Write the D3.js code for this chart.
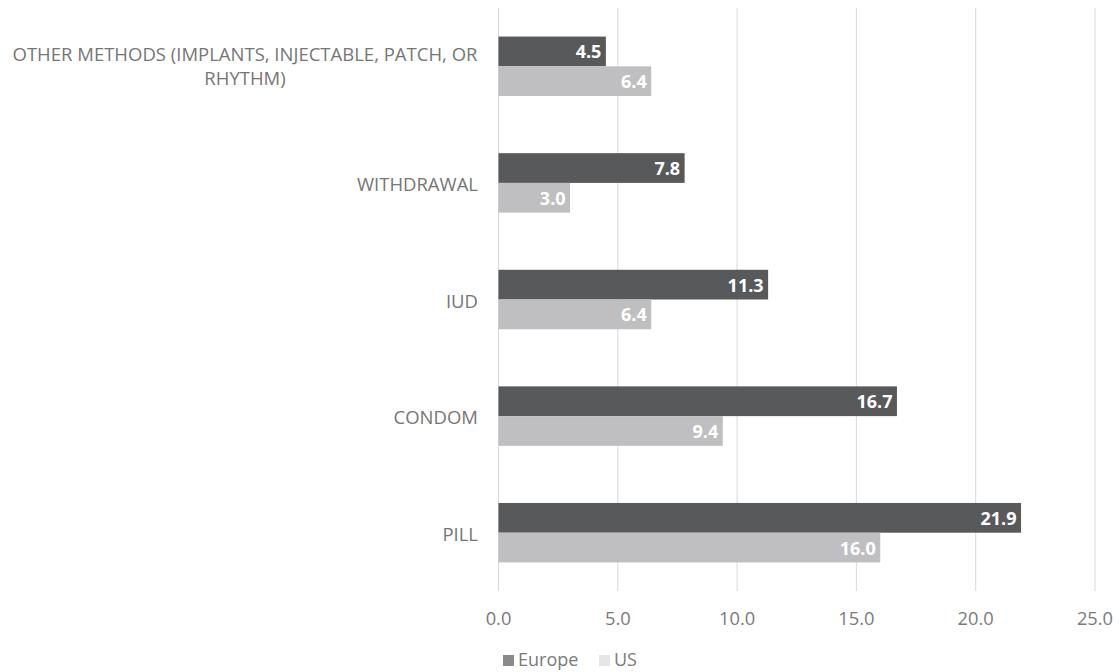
<!DOCTYPE html>
<html lang="en">
<head>
<meta charset="utf-8">
<title>Contraception methods</title>
<style>
body { margin: 0; background: #ffffff; }
svg text { font-family: "Open Sans", "DejaVu Sans", sans-serif; }
</style>
<script src="https://cdn.jsdelivr.net/npm/d3@7"></script>
</head>
<body>
<svg id="chart" width="1120" height="672"></svg>
<script>
// data
var categories = ["OTHER METHODS (IMPLANTS, INJECTABLE, PATCH, OR RHYTHM)", "WITHDRAWAL", "IUD", "CONDOM", "PILL"];
var categoryLines = [["OTHER METHODS (IMPLANTS, INJECTABLE, PATCH, OR", "RHYTHM)"], ["WITHDRAWAL"], ["IUD"], ["CONDOM"], ["PILL"]];
var europe = [4.5, 7.8, 11.3, 16.7, 21.9];
var us = [6.4, 3.0, 6.4, 9.4, 16.0];
var seriesNames = ["Europe", "US"];
var xTicks = [0, 5, 10, 15, 20, 25];

var barColors = {Europe: "#58595b", US: "#bfbfc1"};
var legendColors = {Europe: "#8a898c", US: "#e6e6e7"};

var svg = d3.select("#chart");
var plotL = 498.5, plotR = 1095, plotT = 8, plotB = 591;

var x = d3.scaleLinear().domain([0, 25]).range([plotL, plotR]);
var y = d3.scaleBand().domain(categories).range([plotT, plotB]).paddingInner(0.49).paddingOuter(0.245);
var ySub = d3.scaleBand().domain(seriesNames).range([0, y.bandwidth()]);

// gridlines
svg.append("g").selectAll("line").data(xTicks).enter()
  .append("line")
  .attr("x1", function(d){ return x(d); })
  .attr("x2", function(d){ return x(d); })
  .attr("y1", plotT).attr("y2", plotB)
  .attr("stroke", "#d9d9d9").attr("stroke-width", 1);

// tick labels
svg.append("g").selectAll("text").data(xTicks).enter()
  .append("text")
  .attr("x", function(d){ return x(d); })
  .attr("y", 625)
  .attr("text-anchor", "middle")
  .attr("font-size", 18.3)
  .attr("fill", "#7a7a7a")
  .text(function(d){ return d3.format(".1f")(d); });

// category labels
var catG = svg.append("g").selectAll("text").data(categories).enter()
  .append("text")
  .attr("text-anchor", "end")
  .attr("font-size", 18.5)
  .attr("fill", "#767676");
catG.each(function(d, i){
  var lines = categoryLines[i];
  var cy = y(d) + y.bandwidth() / 2;
  var lh = 24;
  var y0 = lines.length > 1 ? cy - 5 : cy + 8;
  var t = d3.select(this);
  lines.forEach(function(s, k){
    t.append("tspan").attr("x", 478).attr("y", y0 + k * lh).text(s);
  });
});
// second line of long label is centred under the first
catG.filter(function(d, i){ return categoryLines[i].length > 1; })
  .attr("text-anchor", "middle")
  .selectAll("tspan").attr("x", 245);

// bars
var rows = [];
categories.forEach(function(c, i){
  rows.push({cat: c, s: "Europe", v: europe[i]});
  rows.push({cat: c, s: "US", v: us[i]});
});

var barG = svg.append("g");
barG.selectAll("rect").data(rows).enter()
  .append("rect")
  .attr("x", x(0))
  .attr("y", function(d){ return y(d.cat) + ySub(d.s); })
  .attr("width", function(d){ return x(d.v) - x(0); })
  .attr("height", ySub.bandwidth())
  .attr("fill", function(d){ return barColors[d.s]; });

barG.selectAll("text").data(rows).enter()
  .append("text")
  .attr("x", function(d){ return x(d.v) - 4.5; })
  .attr("y", function(d){ return y(d.cat) + ySub(d.s) + ySub.bandwidth() / 2 + 7; })
  .attr("text-anchor", "end")
  .attr("font-size", 18)
  .attr("font-weight", "bold")
  .attr("fill", "#ffffff")
  .text(function(d){ return d3.format(".1f")(d.v); });

// legend
var legX = [503, 599];
var leg = svg.append("g").selectAll("g").data(seriesNames).enter()
  .append("g")
  .attr("transform", function(d, i){ return "translate(" + legX[i] + ",655)"; });
leg.append("rect").attr("width", 11).attr("height", 11)
  .attr("fill", function(d){ return legendColors[d]; });
leg.append("text").attr("x", 15).attr("y", 11)
  .attr("font-size", 18)
  .attr("fill", "#7a7a7a")
  .text(function(d){ return d; });
</script>
</body>
</html>
